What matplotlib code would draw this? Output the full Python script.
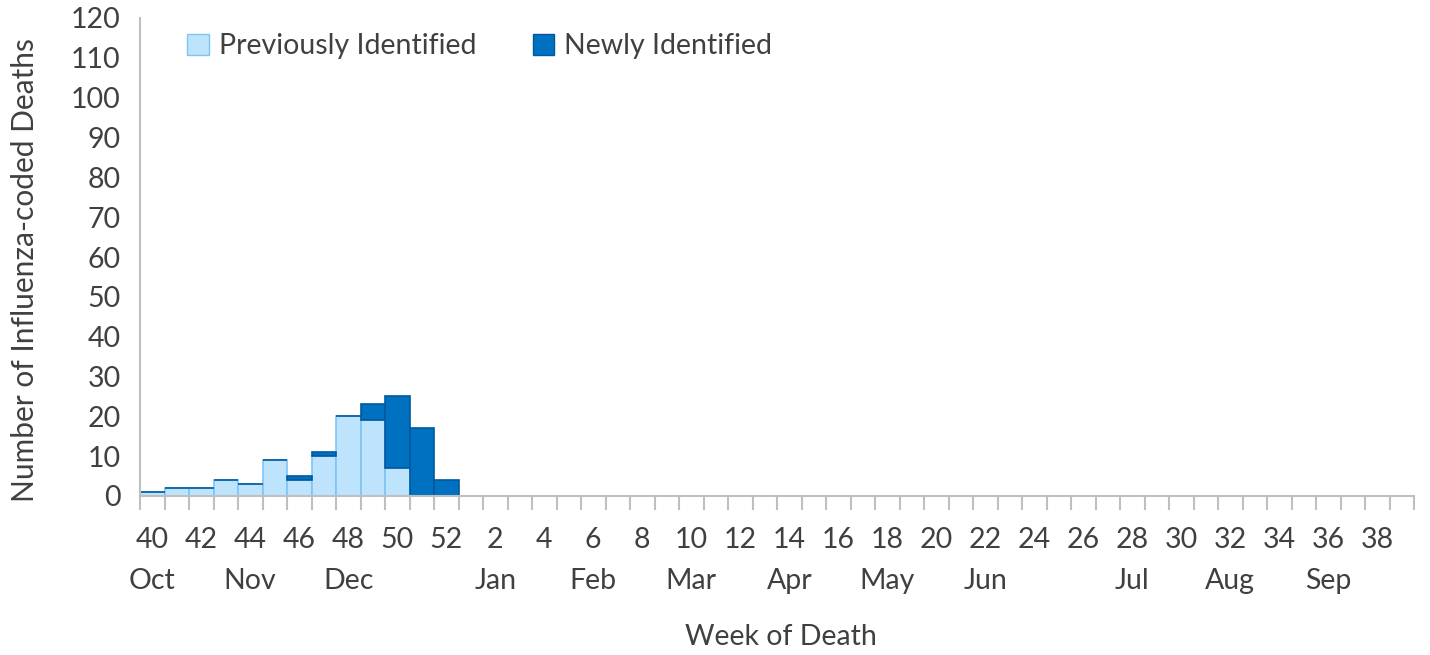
import matplotlib.pyplot as plt
from matplotlib.patches import Patch
import matplotlib.transforms as mtransforms
import numpy as np

plt.rcParams['font.family'] = ['Lato', 'DejaVu Sans']

# week of death, season weeks 40..52 then 1..39
weeks = list(range(40, 53)) + list(range(1, 40))
previously = [1, 2, 2, 4, 3, 9, 4, 10, 20, 19, 7, 0, 0] + [0] * 39
newly = [0, 0, 0, 0, 0, 0, 1, 1, 0, 4, 18, 17, 4] + [0] * 39
months = ['Oct', 'Nov', 'Dec', 'Jan', 'Feb', 'Mar', 'Apr', 'May', 'Jun', 'Jul', 'Aug', 'Sep']
month_weeks = [40, 44, 48, 2, 6, 10, 14, 18, 22, 28, 32, 36]

txt = '#404040'
grey = '#BFBFBF'
light = '#BDE3FD'
light_edge = '#7FC4F7'
dark = '#0070C0'
dark_edge = '#005A9E'
fs = 20.5

fig = plt.figure(figsize=(14.3, 6.55), dpi=100)
ax = fig.add_axes([140/1430, 1-496/655, 1274/1430, 478/655])

x = np.arange(len(weeks))
ax.bar(x, previously, width=1, color=light, edgecolor=light_edge, linewidth=1.2)
ax.bar(x, newly, width=1, bottom=previously, color=dark, edgecolor=dark_edge, linewidth=1.2)

ax.set_xlim(-0.5, len(weeks) - 0.5)
ax.set_ylim(0, 120)
ax.set_yticks(range(0, 121, 10))
ax.tick_params(axis='y', length=0, labelsize=fs, labelcolor=txt, pad=14)

# x ticks: boundary marks + labels at every other week
ax.set_xticks(np.arange(-0.5, len(weeks)), minor=True)
ax.tick_params(axis='x', which='minor', length=10, color=grey, width=1.5)
lab_idx = [i for i in x if weeks[i] % 2 == 0]
ax.set_xticks(lab_idx)
ax.set_xticklabels([str(weeks[i]) for i in lab_idx])
ax.tick_params(axis='x', which='major', length=0, labelsize=fs, labelcolor=txt, pad=22)

trans = mtransforms.blended_transform_factory(ax.transData, ax.transAxes)
for m, w in zip(months, month_weeks):
    ax.text(weeks.index(w), -85/478, m, transform=trans, ha='center', va='center',
            fontsize=fs, color=txt)

for s in ['top', 'right']:
    ax.spines[s].set_visible(False)
for s in ['left', 'bottom']:
    ax.spines[s].set_color(grey)
    ax.spines[s].set_linewidth(1.5)

fig.text(25/1430, 1-270/655, 'Number of Influenza-coded Deaths', rotation=90,
         ha='center', va='center', fontsize=21.5, color=txt)
fig.text(781/1430, 1-637/655, 'Week of Death', ha='center', va='center', fontsize=fs, color=txt)

handles = [Patch(facecolor=light, edgecolor=light_edge, label='Previously Identified'),
           Patch(facecolor=dark, edgecolor=dark_edge, label='Newly Identified')]
ax.legend(handles=handles, loc='upper left', bbox_to_anchor=(0.017, 1.022), ncol=2,
          frameon=False, fontsize=fs, labelcolor=txt, handlelength=0.75, handleheight=0.75,
          handletextpad=0.35, columnspacing=2.0)

fig.savefig('out.png', dpi=100)
